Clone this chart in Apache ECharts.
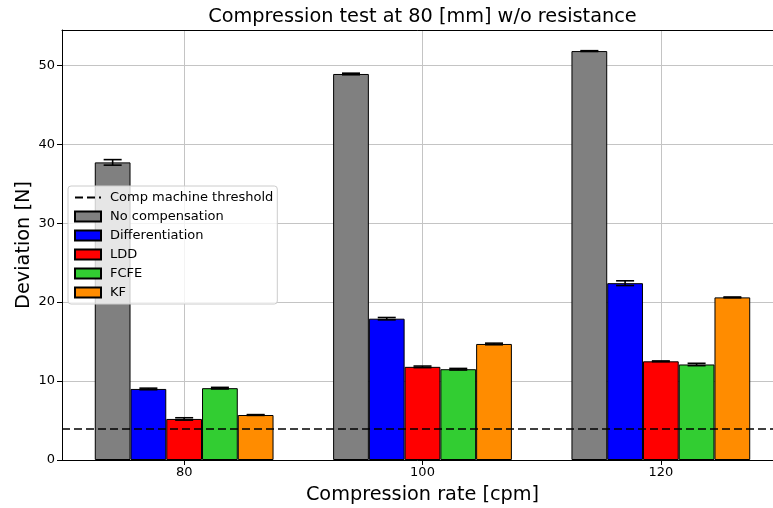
<!DOCTYPE html>
<html><head><meta charset="utf-8">
<script src="https://cdn.jsdelivr.net/npm/echarts@6/dist/echarts.min.js"></script>
<style>html,body{margin:0;padding:0;background:#fff}#c{width:773px;height:508px}</style>
</head><body><div id="c"></div>
<script>
// ---- data ----
const rates = ['80', '100', '120'];
const noComp = [37.7, 48.9, 51.8];
const differentiation = [9.0, 17.9, 22.4];
const ldd = [5.2, 11.8, 12.5];
const fcfe = [9.1, 11.5, 12.1];
const kf = [5.7, 14.7, 20.6];
const noCompErr = [0.35, 0.1, 0.05];
const differentiationErr = [0.1, 0.15, 0.3];
const lddErr = [0.15, 0.1, 0.05];
const fcfeErr = [0.1, 0.1, 0.15];
const kfErr = [0.05, 0.1, 0.05];
const threshold = 4;
const yTicks = [0, 10, 20, 30, 40, 50];

// ---- presentation ----
const FONT = 'DejaVu Sans';
const seriesNames = ['No compensation', 'Differentiation', 'LDD', 'FCFE', 'KF'];
const seriesValues = [noComp, differentiation, ldd, fcfe, kf];
const seriesErrors = [noCompErr, differentiationErr, lddErr, fcfeErr, kfErr];
const colors = ['#808080', '#0000ff', '#ff0000', '#32cd32', '#ff8c00'];
const BAR_W = 0.15;           // bar width in group units (matplotlib style)
const X_MIN = -0.5125, X_MAX = 2.5125;
const Y_MAX = 54.47;

const series = [];
seriesNames.forEach((name, k) => {
  series.push({
    name, type: 'bar', xAxisIndex: 0, yAxisIndex: 0,
    data: seriesValues[k].map((v, i) => [i, v]),
    barWidth: (BAR_W * 100) + '%', barGap: '0%',
    itemStyle: { color: colors[k], borderColor: '#000', borderWidth: 1 },
    z: 2, silent: true
  });
});
const errData = [];
seriesNames.forEach((name, k) => {
  seriesValues[k].forEach((v, i) => {
    const e = seriesErrors[k][i];
    errData.push([i + (k - 2) * BAR_W, v - e, v + e]);
  });
});
series.push({
  type: 'custom', xAxisIndex: 0, yAxisIndex: 0, z: 3, silent: true,
  data: errData, encode: { x: 0, y: [1, 2] },
  renderItem(params, api) {
    const x = api.value(0), lo = api.value(1), hi = api.value(2);
    const p1 = api.coord([x, hi]), p2 = api.coord([x, lo]);
    const hw = 9, st = { stroke: '#000', lineWidth: 1.6 };
    return { type: 'group', children: [
      { type: 'line', shape: { x1: p1[0], y1: p1[1], x2: p2[0], y2: p2[1] }, style: st },
      { type: 'line', shape: { x1: p1[0] - hw, y1: p1[1], x2: p1[0] + hw, y2: p1[1] }, style: st },
      { type: 'line', shape: { x1: p2[0] - hw, y1: p2[1], x2: p2[0] + hw, y2: p2[1] }, style: st }
    ]};
  }
});
series.push({
  name: 'Comp machine threshold', type: 'line', xAxisIndex: 0, yAxisIndex: 0,
  data: [], symbol: 'none', z: 5,
  lineStyle: { color: '#000', type: [8, 4], width: 1.7 },
  itemStyle: { color: '#000' },
  markLine: {
    silent: true, symbol: ['none', 'none'], label: { show: false },
    lineStyle: { color: '#000', type: [8, 4], width: 1.7 },
    data: [{ yAxis: threshold }]
  }
});

const chart = echarts.init(document.getElementById('c'), null, { renderer: 'canvas' });
chart.setOption({
  animation: false,
  backgroundColor: '#ffffff',
  textStyle: { fontFamily: FONT },
  title: {
    text: 'Compression test at 80 [mm] w/o resistance',
    left: 422.5, top: 7, padding: 0, textAlign: 'center',
    textStyle: { fontFamily: FONT, fontSize: 19.3, fontWeight: 'normal', color: '#000' }
  },
  grid: { left: 62, width: 721, top: 30, bottom: 48, containLabel: false, outerBoundsMode: 'none' },
  legend: {
    orient: 'vertical', left: 68, top: 186,
    padding: [5, 4, 5, 6], itemGap: 6, itemWidth: 26, itemHeight: 10,
    backgroundColor: 'rgba(255,255,255,0.8)', borderColor: '#cccccc', borderWidth: 1, borderRadius: 3,
    textStyle: { fontFamily: FONT, fontSize: 13, color: '#000', padding: [0, 0, 0, 4] },
    data: [{ name: 'Comp machine threshold', itemStyle: { opacity: 0 } },
           ...seriesNames.map(n => ({ name: n, icon: 'rect' }))],
    selectedMode: false
  },
  xAxis: [{
    type: 'value', min: X_MIN, max: X_MAX, splitNumber: 3, minInterval: 1, maxInterval: 1,
    name: 'Compression rate [cpm]', nameLocation: 'middle', nameGap: 25,
    nameTextStyle: { fontFamily: FONT, fontSize: 19.3, color: '#000' },
    axisLine: { show: true, onZero: false, lineStyle: { color: '#000', width: 1 } },
    axisTick: { show: true, length: 5, lineStyle: { color: '#000' } },
    axisLabel: {
      show: true, margin: 6, fontFamily: FONT, fontSize: 13, color: '#000',
      showMinLabel: false, showMaxLabel: false,
      formatter: v => { const r = Math.round(v); return Math.abs(v - r) < 1e-6 && rates[r] !== undefined ? rates[r] : ''; }
    },
    splitLine: { show: true, lineStyle: { color: '#c4c4c4', width: 1 } }
  }, {
    type: 'value', position: 'top', min: X_MIN, max: X_MAX,
    axisLine: { show: true, onZero: false, lineStyle: { color: '#000', width: 1 } },
    axisTick: { show: false }, axisLabel: { show: false }, splitLine: { show: false }
  }],
  yAxis: {
    type: 'value', min: yTicks[0], max: Y_MAX, interval: yTicks[1] - yTicks[0],
    name: 'Deviation [N]', nameLocation: 'middle', nameGap: 29, nameMoveOverlap: false,
    nameTextStyle: { fontFamily: FONT, fontSize: 19.3, color: '#000' },
    axisLine: { show: true, onZero: false, lineStyle: { color: '#000', width: 1 } },
    axisTick: { show: true, length: 5, lineStyle: { color: '#000' } },
    axisLabel: { margin: 7, fontFamily: FONT, fontSize: 13, color: '#000', showMaxLabel: false,
      formatter: v => yTicks.includes(v) ? String(v) : '' },
    splitLine: { show: true, lineStyle: { color: '#c4c4c4', width: 1 } }
  },
  series
});
</script>
</body></html>
